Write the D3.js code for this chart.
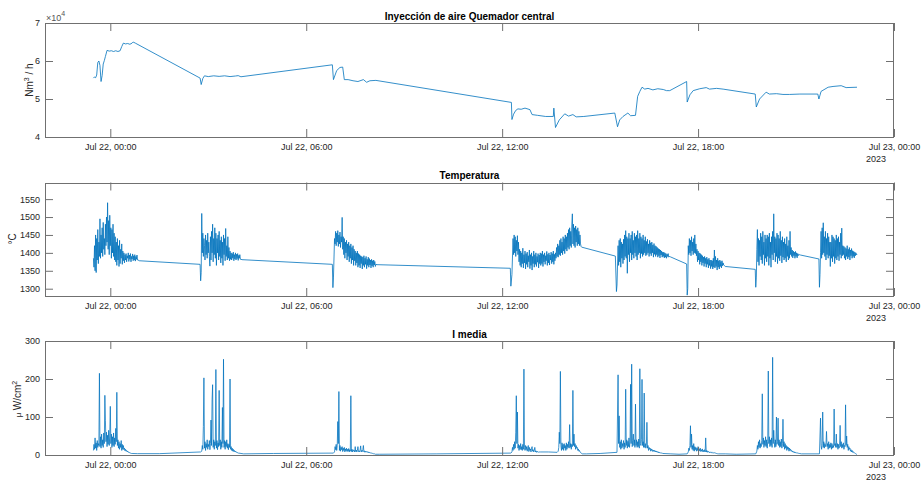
<!DOCTYPE html>
<html><head><meta charset="utf-8">
<script src="https://cdn.jsdelivr.net/npm/d3@7"></script>
<style>
html,body{margin:0;padding:0;background:#fff;}
svg{display:block;font-family:"Liberation Sans",Arial,Helvetica,sans-serif;}
</style></head><body>
<svg id="chart" width="923" height="481"></svg>
<script>
// ---------------- DATA ----------------
const xDomain = ["21 22:00", "23 00:00"];
const xTickTimes = ["22 00:00", "22 06:00", "22 12:00", "22 18:00", "23 00:00"];
const xTickLabels = ["Jul 22, 00:00", "Jul 22, 06:00", "Jul 22, 12:00", "Jul 22, 18:00", "Jul 23, 00:00"];
const yearLabel = "2023";
const titles = ["Inyección de aire Quemador central", "Temperatura", "I media"];

const airTicks = [40000, 50000, 60000, 70000];
const tempTicks = [1300, 1350, 1400, 1450, 1500, 1550];
const irrTicks = [0, 100, 200, 300];

// Air injection (Nm3/h)
const airData = [
["21 23:29",55500],["21 23:31",55800],["21 23:33",55600],["21 23:35",56300],["21 23:37",59600],
["21 23:39",60000],["21 23:41",58800],["21 23:43",54600],["21 23:45",56200],["21 23:47",59200],
["21 23:49",60100],["21 23:51",61200],["21 23:54",62800],["21 23:58",62600],["22 00:02",62700],
["22 00:06",62500],["22 00:10",62700],["22 00:14",62500],["22 00:18",62700],["22 00:21",63800],
["22 00:24",64700],["22 00:28",64500],["22 00:32",64600],["22 00:36",64400],["22 00:40",64700],
["22 00:42",65000],["22 00:46",64700],["22 02:45",55500],["22 02:47",53800],["22 02:50",55400],
["22 02:53",56100],["22 03:00",55900],["22 03:10",56100],["22 03:20",55950],["22 03:30",56100],
["22 03:40",55900],["22 03:50",56050],["22 03:55",56150],["22 04:00",55850],["22 06:48",59000],
["22 06:50",55100],["22 06:56",57500],["22 07:02",58300],["22 07:07",58400],["22 07:10",55100],
["22 07:17",55100],["22 07:26",54800],["22 07:35",54600],["22 07:45",55100],["22 07:51",54400],
["22 07:57",54800],["22 08:08",54900],["22 12:17",49100],["22 12:18",44600],["22 12:21",46000],
["22 12:25",47000],["22 12:29",47400],["22 12:35",47300],["22 12:42",47600],["22 12:51",47200],
["22 12:55",45900],["22 13:05",45700],["22 13:20",45400],["22 13:34",45400],["22 13:35",47600],
["22 13:38",42500],["22 13:45",44500],["22 13:55",46100],["22 14:02",45500],["22 14:10",45900],
["22 14:16",45300],["22 14:30",45400],["22 15:27",46300],["22 15:32",42700],["22 15:36",44500],
["22 15:42",45400],["22 15:51",46300],["22 15:56",45600],["22 16:05",45700],["22 16:09",50700],
["22 16:13",52000],["22 16:17",53100],["22 16:22",52600],["22 16:28",52800],["22 16:37",52400],
["22 16:46",52700],["22 16:56",52500],["22 17:02",52200],["22 17:08",52200],["22 17:39",54600],
["22 17:40",49200],["22 17:45",51100],["22 17:51",52200],["22 18:03",52700],["22 18:15",53000],
["22 18:21",52600],["22 18:34",52800],["22 18:46",52600],["22 19:45",51300],["22 19:47",47900],
["22 19:53",50000],["22 20:05",51800],["22 20:11",51300],["22 20:24",51400],["22 20:36",51200],
["22 20:48",51200],["22 21:07",51300],["22 21:40",51300],["22 21:42",50000],["22 21:46",52000],
["22 21:59",53100],["22 22:08",53300],["22 22:23",53500],["22 22:32",53000],["22 22:52",53100]
];

// Sampling step inside the noisy bursts (minutes)
const sampleStepMin = 1;

// Temperature (°C): points between bursts
const tempLinks = [
["22 00:53",1378],["22 02:45",1368],["22 02:46",1322],["22 02:47",1345],
["22 04:02",1381],["22 06:48",1368],["22 06:49",1303],["22 06:50",1330],
["22 08:10",1367],["22 12:15",1357],["22 12:16",1307],["22 12:18",1340],
["22 14:26",1416],["22 15:28",1391],["22 15:30",1292],["22 15:31",1310],
["22 17:09",1389],["22 17:39",1369],["22 17:40",1282],["22 17:41",1300],
["22 18:50",1362],["22 19:45",1354],["22 19:46",1304],["22 19:47",1330],
["22 21:08",1394],["22 21:42",1383],["22 21:43",1304],["22 21:44",1340]
];
const tempBurstStarts = ["21 23:29","22 02:48","22 06:52","22 12:20","22 15:33","22 17:42","22 19:48","22 21:45"];
const tempBurst1 = [1385,1360,1420,1350,1450,1345,1440,1380,1465,1370,1430,1390,
1495,1385,1450,1400,1470,1390,1485,1410,1440,1395,1480,1420,1500,1430,1540,
1410,1490,1395,1505,1420,1470,1385,1465,1400,1480,1390,1455,1380,
1445,1375,1430,1365,1440,1380,1420,1362,1435,1370,1410,1385,1425,1368,1405,1378,
1400,1372,1395,1380,1398,1375,1392,1385,1400,1376,1394,1382,1398,1375,1390,1383,1397,1378,1392,1380,1395,1377,1390,1382,1394,1380,1380];
const tempBurst2 = [1510,1400,1455,1390,1440,1420,1380,1450,1395,1435,1385,1455,1400,1430,1390,
1363,1445,1380,1460,1400,1480,1375,1440,1395,1470,1385,1455,1365,1440,1400,1450,1380,1460,1390,1435,1372,1445,1385,1430,1365,1450,1395,1440,1378,1468,1390,1420,1380,1445,1385,1415,
1378,1405,1382,1400,1380,1398,1385,1402,1378,1395,1383,1400,1380,1396,1384,1398,1379,1393,1385,1395,1382,1382];
const tempBurst3 = [1440,1425,1460,1420,1455,1430,1462,1418,1450,1425,1458,1415,1445,1430,1499,
1410,1445,1395,1440,1385,1430,1400,1435,1380,1425,1390,1430,1375,1420,1385,1425,1370,1415,1380,1420,1365,1410,1378,1405,1365,1400,1372,1405,
1360,1398,1365,1395,1358,1392,1370,1390,1355,1388,1365,1392,1360,1385,1368,1390,1356,1382,1365,1388,1360,1384,1366,1380,1358,1382,1364,1378,1360,1380,1366,1376,1362,1368];
const tempBurst4 = [1440,1395,1450,1400,1445,1390,1435,1405,1448,1395,1430,
1375,1410,1365,1405,1360,1400,1370,1413,1358,1395,1372,1405,1355,1398,1368,1402,1360,1392,1375,1408,1356,1395,1365,1400,1352,1390,1370,1405,1360,1395,1368,1400,1362,1390,1374,1398,1358,1394,1370,
1400,1365,1398,1370,1405,1362,1395,1375,1400,1368,1392,1378,1404,1365,1396,1372,1400,1366,1394,1380,1402,1370,1398,1375,1405,1368,1396,1378,1400,
1385,1415,1390,1425,1388,1420,1395,1435,1392,1440,1400,1430,1395,1445,1405,1440,1398,1450,1410,1445,1405,1455,1415,
1465,1410,1470,1420,1460,1415,1478,1509,1425,1480,1420,1470,1415,1475,1430,1465,1420,1470,1425,1460,1420,1450,1425,1418];
const tempBurst5 = [1420,1365,1435,1375,1440,1360,1430,1385,1425,1370,1438,
1380,1450,1390,1462,1385,1445,1343,1440,1395,1455,1375,1440,1400,1450,1380,1460,1395,1435,1385,1455,1400,1445,1390,1450,1380,1462,1395,1440,1400,1455,1385,1445,1398,1440,1390,1450,1395,1435,1400,1445,1392,
1432,1395,1438,1400,1425,1390,1435,1398,1428,1392,1430,1400,1422,1388,1426,1396,1420,1390,1418,1395,1415,1388,1412,1392,1410,1386,1408,1394,1405,1388,1402,
1390,1402,1386,1400,1388,1398,1385,1396,1390,1398,1388,1390];
const tempBurst6 = [1420,1395,1440,1400,1435,1392,1445,1405,1430,1395,1440,1400,1450,1398,1425,1392,
1410,1375,1405,1380,1400,1368,1398,1375,1395,1365,1392,1372,1388,1362,1390,1370,1385,1360,1388,1368,1382,1358,1385,1365,1380,
1356,1380,1362,1378,1355,1385,1360,1408,1358,1390,1362,1380,1352,1385,1360,1378,1355,1380,1362,1376,1358,1378,1364,1372,1366,1365];
const tempBurst7 = [1410,1465,1375,1440,1365,1435,1390,1455,1380,1445,1370,1460,1395,1430,1365,1450,1385,1440,
1375,1450,1390,1445,1365,1455,1385,1430,1360,1445,1395,1460,1380,1509,1400,1445,1375,1440,1390,1455,1370,1450,1385,1440,1378,1460,1392,1435,1372,1445,1388,
1430,1380,1440,1385,1425,1375,1445,1390,1420,1380,1435,1385,1460,1395,1415,
1390,1408,1386,1405,1392,1402,1385,1404,1390,1400,1386,1398,1392,1396,1395];
const tempBurst8 = [1400,1460,1385,1470,1395,1484,1400,1445,1390,1460,1380,1440,1395,1455,1385,1445,1392,1430,
1362,1430,1385,1450,1375,1445,1390,1440,1370,1435,1385,1450,1380,1440,1390,1445,1378,1430,1395,1455,1385,1469,1392,1420,
1395,1418,1385,1415,1380,1412,1390,1420,1383,1410,1388,1415,1380,1408,1392,1412,1385,1406,1390,1404,1386,1402,1392,1400,1394,1396];

// I media (µW/cm2): points between bursts
const irrLinks = [
["22 00:50",3.5],["22 01:30",3.5],["22 02:46",8],
["22 04:05",3],["22 05:00",4],["22 06:50",5],
["22 08:15",2],["22 10:00",3],["22 12:16",5],
["22 13:25",8],["22 13:41",7],
["22 14:35",3],["22 15:00",4],["22 15:31",7],
["22 17:10",3],["22 17:25",2],["22 17:40",3],
["22 18:50",3],["22 19:10",2],["22 19:46",3],
["22 21:10",3],["22 21:43",3]
];
const irrBurstStarts = ["21 23:29","22 02:48","22 06:52","22 12:18","22 13:43","22 15:33","22 17:42","22 19:48","22 21:45"];
const irrBurst1 = [12,28,15,45,18,32,12,38,20,30,25,215,
22,48,18,55,25,40,20,58,30,157,90,35,60,22,52,28,65,25,50,128,
30,55,20,48,25,58,22,45,28,70,35,165,
25,40,18,35,15,30,20,38,12,28,15,25,
14,18,11,15,10,12,8,10,7,8,6,6,5,5,4,4];
const irrBurst2 = [10,25,15,75,203,18,35,12,30,20,40,15,28,22,38,14,30,92,25,145,185,
20,40,15,35,25,225,18,38,14,32,22,170,25,40,15,35,20,125,30,252,
20,38,15,35,22,40,18,30,14,28,20,200,15,22,12,18,10,15,9,12,8,10,7,8,6,6,5,5];
const irrBurst3 = [8,22,14,28,12,25,88,30,167,12,25,10,20,14,22,9,18,12,20,8,16,11,18,9,15,10,17,8,14,10,156,
9,15,8,14,10,12,8,22,9,13,8,12,22,9,11,8,13,24,8,12,9,14,25,8,11,7,10,8,9,7,9,6,8,6,7,5,6,5,5,4,4,3,3,3,2,2];
const irrBurst4 = [8,20,12,28,15,35,18,60,156,30,113,18,28,12,25,15,30,14,22,12,28,15,226,
20,12,25,14,22,10,18,25,9,20,12,16,8,18,22,10,14,8,12,20,8,11,7,10,8,9,7,8,8,8];
const irrBurst5 = [10,20,60,30,220,25,12,32,15,28,12,30,18,25,12,32,15,28,20,35,18,80,20,30,15,28,22,170,25,55,
22,30,15,25,18,20,12,16,10,12,8,7,5,4,3];
const irrBurst6 = [211,30,103,20,35,15,40,18,30,22,38,15,32,20,173,25,40,18,36,22,45,20,35,186,30,239,
22,38,55,25,40,20,134,25,40,20,35,22,42,18,227,30,25,40,199,25,35,20,163,20,30,18,25,86,
18,25,12,20,15,18,10,16,12,14,9,13,10,12,8,11,8,10,7,9,6,8,6,7,5,6,5,5,4];
const irrBurst7 = [8,18,12,25,77,20,55,15,25,12,30,10,22,14,20,10,18,12,22,9,16,11,18,9,14,10,16,8,12,9,14,8,45,
8,12,7,10,8,9,6,8,7,8,6,7,5,6,5,6,5,5,4,4,4,3,3,3];
const irrBurst8 = [10,25,15,35,20,40,18,30,22,38,161,28,45,20,38,25,48,22,40,18,35,221,30,48,22,40,25,45,20,257,30,65,
35,20,40,22,100,28,35,97,25,40,20,35,22,42,18,30,94,
22,35,15,30,18,25,12,22,15,20,10,18,12,15,10,12,8,10,7,9,6,8,6,7,5,6,5,5,4,4];
const irrBurst9 = [97,25,15,30,113,20,35,18,30,22,28,62,22,30,15,35,18,28,20,32,15,30,18,25,20,121,25,30,20,55,
20,30,15,28,18,25,78,22,35,18,28,20,32,15,25,22,132,25,50,
20,28,12,22,15,18,10,14,8,12,7,9,6,6,5,4,3,2,1];

// ---------------- BUILD ----------------
const parseT = d3.timeParse("%Y-%m-%d %H:%M");
const T = s => parseT("2023-07-" + s);

function buildSeries(links, starts, bursts) {
  const pts = links.map(([s, v]) => ({t: T(s), v}));
  bursts.forEach((vals, i) => {
    const t0 = +T(starts[i]);
    vals.forEach((v, j) => pts.push({t: new Date(t0 + j * sampleStepMin * 60000), v}));
  });
  pts.sort((a, b) => a.t - b.t);
  return pts;
}

const airSeries = airData.map(([s, v]) => ({t: T(s), v}));
const tempSeries = buildSeries(tempLinks, tempBurstStarts,
  [tempBurst1, tempBurst2, tempBurst3, tempBurst4, tempBurst5, tempBurst6, tempBurst7, tempBurst8]);
const irrSeries = buildSeries(irrLinks, irrBurstStarts,
  [irrBurst1, irrBurst2, irrBurst3, irrBurst4, irrBurst5, irrBurst6, irrBurst7, irrBurst8, irrBurst9]);

// ---------------- DRAW ----------------
const svg = d3.select("#chart");
const L = 45, R = 894;
const x = d3.scaleTime().domain(xDomain.map(T)).range([L, R]);
const axisColor = "#707070";
const textColor = "#262626";
const lineColor = "#0072BD";

const panels = [
  {top: 23, bottom: 137, domain: [40000, 70000], ticks: airTicks, fmt: d => d / 1e4, data: airSeries, title: titles[0], sw: 0.8},
  {top: 182.5, bottom: 296, domain: [1279.6, 1596.4], ticks: tempTicks, fmt: d => d, data: tempSeries, title: titles[1], sw: 0.8},
  {top: 341, bottom: 455, domain: [0, 300], ticks: irrTicks, fmt: d => d, data: irrSeries, title: titles[2], sw: 0.75}
];

panels.forEach((p, i) => {
  const y = d3.scaleLinear().domain(p.domain).range([p.bottom, p.top]);
  const g = svg.append("g");

  svg.append("clipPath").attr("id", "clip" + i)
    .append("rect").attr("x", L).attr("y", p.top).attr("width", R - L).attr("height", p.bottom - p.top);

  const line = d3.line().x(d => x(d.t)).y(d => y(d.v));
  g.append("path").datum(p.data)
    .attr("clip-path", `url(#clip${i})`)
    .attr("d", line)
    .attr("fill", "none")
    .attr("stroke", lineColor)
    .attr("stroke-width", p.sw)
    .attr("stroke-linejoin", "round");

  const xt = xTickTimes.map(T);
  const ax = g.append("g").attr("transform", `translate(0,${p.bottom})`)
    .call(d3.axisBottom(x).tickValues(xt).tickSizeInner(-8).tickSizeOuter(0)
      .tickFormat((d, k) => xTickLabels[k]));
  ax.selectAll("text").attr("y", 13.3).attr("dy", 0).attr("font-size", 9).attr("fill", textColor)
    .attr("font-family", '"Liberation Sans",Arial,sans-serif');
  g.append("g").attr("transform", `translate(0,${p.top})`)
    .call(d3.axisTop(x).tickValues(xt).tickSizeInner(-8).tickSizeOuter(0).tickFormat(""));
  const ay = g.append("g").attr("transform", `translate(${L},0)`)
    .call(d3.axisLeft(y).tickValues(p.ticks).tickSizeInner(-8).tickSizeOuter(0).tickPadding(5).tickFormat(p.fmt));
  ay.selectAll("text").attr("font-size", 9).attr("fill", textColor)
    .attr("font-family", '"Liberation Sans",Arial,sans-serif');
  g.append("g").attr("transform", `translate(${R},0)`)
    .call(d3.axisRight(y).tickValues(p.ticks).tickSizeInner(-8).tickSizeOuter(0).tickFormat(""));

  g.selectAll(".domain").remove();
  g.selectAll(".tick line").attr("stroke", axisColor);

  g.append("rect").attr("x", L + 0.5).attr("y", Math.round(p.top) + 0.5)
    .attr("width", R - L - 1).attr("height", Math.round(p.bottom) - Math.round(p.top))
    .attr("fill", "none").attr("stroke", axisColor).attr("stroke-width", 1);

  svg.append("text").attr("x", (L + R) / 2).attr("y", p.top - 3.4)
    .attr("text-anchor", "middle").attr("font-size", 10).attr("font-weight", "bold")
    .attr("fill", "#000").text(p.title);

  svg.append("text").attr("x", 866).attr("y", p.bottom + 25)
    .attr("font-size", 9).attr("fill", textColor).text(yearLabel);
});

const yl1 = svg.append("text").attr("transform", "translate(33,80) rotate(-90)")
  .attr("text-anchor", "middle").attr("font-size", 10).attr("fill", textColor);
yl1.append("tspan").text("Nm");
yl1.append("tspan").attr("dy", -4).attr("font-size", 7).text("3");
yl1.append("tspan").attr("dy", 4).text(" / h");

svg.append("text").attr("transform", "translate(16,239) rotate(-90)")
  .attr("text-anchor", "middle").attr("font-size", 10).attr("fill", textColor).text("°C");

const yl3 = svg.append("text").attr("transform", "translate(20.5,399) rotate(-90)")
  .attr("text-anchor", "middle").attr("font-size", 10).attr("fill", textColor);
yl3.append("tspan").attr("font-size", 8).text("μ ");
yl3.append("tspan").text("W/cm");
yl3.append("tspan").attr("dy", -4).attr("font-size", 7).text("2");

const ex = svg.append("text").attr("x", 46).attr("y", 20.5).attr("font-size", 9).attr("fill", "#555");
ex.append("tspan").text("×10");
ex.append("tspan").attr("dy", -5).attr("font-size", 7).text("4");
</script></body></html>
